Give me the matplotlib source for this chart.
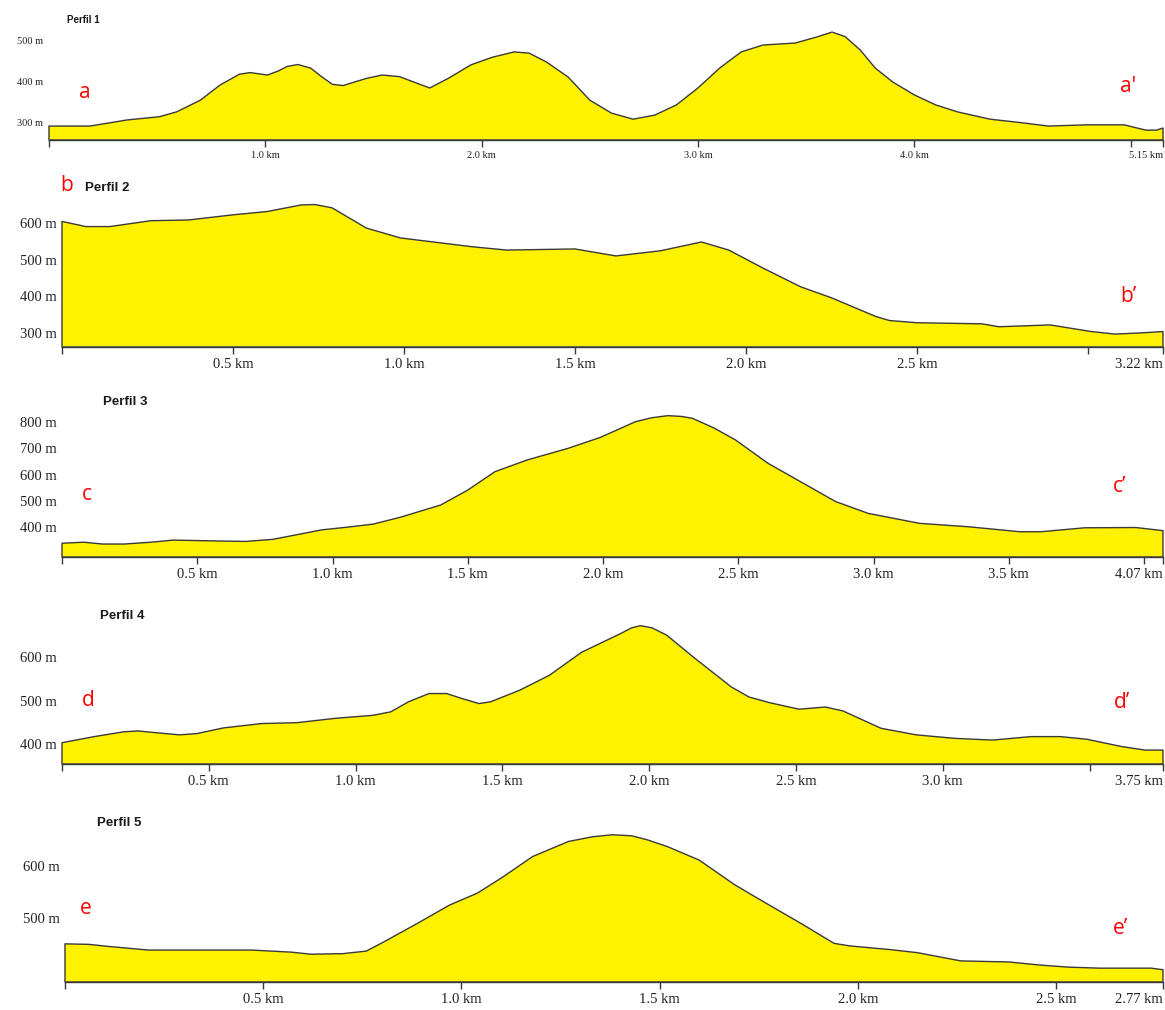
import numpy as np
import matplotlib
matplotlib.use("Agg")
import matplotlib.pyplot as plt

# ---------------- data ----------------
p1_km = [0, 0.19, 0.36, 0.51, 0.59, 0.70, 0.79, 0.88, 0.93, 1.01, 1.06, 1.10, 1.15, 1.21, 1.26, 1.31, 1.36,
         1.42, 1.47, 1.54, 1.62, 1.68, 1.76, 1.85, 1.95, 2.05, 2.15, 2.22, 2.30, 2.40, 2.50, 2.60, 2.70, 2.80,
         2.90, 3.00, 3.10, 3.20, 3.30, 3.45, 3.55, 3.62, 3.68, 3.75, 3.82, 3.90, 4.00, 4.10, 4.20,
         4.35, 4.50, 4.62, 4.80, 4.97, 5.07, 5.12, 5.15]
p1_elev = [290, 290, 305, 313, 325, 354, 391, 418, 422, 416, 426, 437, 442, 433, 412, 393, 390,
           400, 408, 416, 412, 400, 384, 409, 441, 460, 473, 470, 448, 411, 354, 322, 307, 317,
           342, 384, 433, 473, 490, 495, 510, 522, 511, 478, 433, 399, 367, 342, 325,
           307, 298, 290, 293, 293, 280, 280, 285]

p2_km = [0, 0.07, 0.14, 0.26, 0.37, 0.50, 0.60, 0.70, 0.74, 0.79, 0.89, 0.99, 1.20, 1.30, 1.50,
         1.62, 1.75, 1.87, 1.95, 2.05, 2.16, 2.25, 2.38, 2.42, 2.50, 2.69, 2.74, 2.89, 3.01, 3.08,
         3.17, 3.22]
p2_elev = [604, 590, 590, 606, 608, 622, 631, 649, 650, 641, 586, 559, 535, 526, 529,
           510, 524, 548, 526, 477, 426, 396, 345, 334, 328, 325, 317, 322, 304, 297,
           301, 304]

p3_km = [0, 0.08, 0.15, 0.23, 0.33, 0.41, 0.61, 0.68, 0.78, 0.88, 0.96, 1.06, 1.15, 1.25, 1.40,
         1.50, 1.60, 1.72, 1.87, 1.99, 2.12, 2.18, 2.24, 2.29, 2.33, 2.41, 2.49, 2.61, 2.73, 2.86,
         2.98, 3.17, 3.35, 3.54, 3.62, 3.78, 3.97, 4.07]
p3_elev = [338, 342, 335, 335, 342, 350, 346, 345, 353, 373, 389, 400, 411, 437, 484,
           541, 611, 656, 700, 742, 802, 817, 825, 822, 815, 778, 732, 643, 573, 497,
           452, 414, 401, 382, 382, 397, 398, 386]

p4_km = [0, 0.11, 0.21, 0.26, 0.32, 0.40, 0.46, 0.55, 0.68, 0.80, 0.93, 1.06, 1.12, 1.18, 1.25,
         1.31, 1.36, 1.42, 1.46, 1.56, 1.66, 1.77, 1.90, 1.94, 1.97, 2.01, 2.06, 2.15, 2.28, 2.34,
         2.41, 2.51, 2.60, 2.66, 2.79, 2.91, 3.04, 3.17, 3.30, 3.40, 3.49, 3.61, 3.69, 3.75]
p4_elev = [403, 417, 428, 430, 426, 421, 424, 437, 447, 449, 459, 466, 474, 497, 516,
           516, 505, 493, 497, 524, 558, 611, 653, 667, 672, 667, 650, 600, 531, 508,
           495, 480, 485, 476, 436, 421, 413, 409, 417, 417, 411, 394, 386, 386]

p5_km = [0, 0.06, 0.11, 0.21, 0.34, 0.47, 0.57, 0.62, 0.70, 0.76, 0.80, 0.89, 0.97, 1.04, 1.10,
         1.18, 1.27, 1.33, 1.38, 1.43, 1.47, 1.52, 1.60, 1.69, 1.77, 1.86, 1.94, 1.98, 2.08, 2.15,
         2.26, 2.38, 2.46, 2.53, 2.61, 2.74, 2.77]
p5_elev = [450, 449, 445, 438, 438, 438, 434, 430, 431, 436, 452, 490, 525, 548, 577,
           619, 648, 657, 661, 659, 651, 638, 612, 564, 528, 488, 451, 446, 439, 433,
           417, 415, 409, 405, 403, 403, 400]

titles = ["Perfil 1", "Perfil 2", "Perfil 3", "Perfil 4", "Perfil 5"]
start_letters = ["a", "b", "c", "d", "e"]
end_letters = ["a'", "b\u2019", "c\u2019", "d\u2019", "e\u2019"]

p1_yticks = [300, 400, 500]
p2_yticks = [300, 400, 500, 600]
p3_yticks = [400, 500, 600, 700, 800]
p4_yticks = [400, 500, 600]
p5_yticks = [500, 600]

p1_xticks = [1.0, 2.0, 3.0, 4.0, 5.0]
p2_xticks = [0.5, 1.0, 1.5, 2.0, 2.5, 3.0]
p3_xticks = [0.5, 1.0, 1.5, 2.0, 2.5, 3.0, 3.5, 4.0]
p4_xticks = [0.5, 1.0, 1.5, 2.0, 2.5, 3.0, 3.5]
p5_xticks = [0.5, 1.0, 1.5, 2.0, 2.5]
hidden_ticks = [5.0, 3.0, 4.0, 3.5, None]   # ticks drawn without label

# ---------------- layout (pixel geometry) ----------------
W, H = 1165, 1010
fig = plt.figure(figsize=(W / 100, H / 100), dpi=100)

geom = [
    dict(l=49, r=1163, t=10, b=140, ref=300, refpx=122, s=40.5, fs=7.5, tfs=7),
    dict(l=62, r=1163, t=195, b=347, ref=300, refpx=333, s=36.7, fs=10.5, tfs=9.5),
    dict(l=62, r=1163, t=405, b=557, ref=400, refpx=527, s=26.2, fs=10.5, tfs=9.5),
    dict(l=62, r=1163, t=615, b=764, ref=400, refpx=744, s=43.5, fs=10.5, tfs=9.5),
    dict(l=65, r=1163, t=825, b=982, ref=500, refpx=918, s=51.7, fs=10.5, tfs=9.5),
]
title_pos = [(67, 20), (85, 188), (103, 402), (100, 616), (97, 823)]
start_pos = [(85, 92), (67, 186), (87, 494), (88, 700), (86, 908)]
end_pos = [(1128, 86), (1128, 296), (1120, 487), (1122, 703), (1120, 928)]

series = [(p1_km, p1_elev), (p2_km, p2_elev), (p3_km, p3_elev), (p4_km, p4_elev), (p5_km, p5_elev)]
yticks_all = [p1_yticks, p2_yticks, p3_yticks, p4_yticks, p5_yticks]
xticks_all = [p1_xticks, p2_xticks, p3_xticks, p4_xticks, p5_xticks]

YELLOW = "#FFF200"
EDGE = "#3a3a3a"
serif = "Liberation Serif"
sans = "Liberation Sans"

for i, g in enumerate(geom):
    km, elev = series[i]
    km = np.array(km, dtype=float)
    elev = np.array(elev, dtype=float)
    ax = fig.add_axes([g["l"] / W, 1 - g["b"] / H, (g["r"] - g["l"]) / W, (g["b"] - g["t"]) / H])
    ybot = g["ref"] - (g["b"] - g["refpx"]) / g["s"] * 100
    ytop = g["ref"] + (g["refpx"] - g["t"]) / g["s"] * 100
    ax.set_ylim(ybot, ytop)
    end = km[-1]
    ax.set_xlim(0, end)

    ax.fill(np.r_[km[0], km, km[-1]], np.r_[ybot, elev, ybot],
            facecolor=YELLOW, edgecolor=EDGE, linewidth=1.0, joinstyle="round",
            clip_on=False, zorder=2)

    for sp in ["top", "right", "left"]:
        ax.spines[sp].set_visible(False)
    ax.spines["bottom"].set_color(EDGE)
    ax.spines["bottom"].set_linewidth(1.0)
    ax.spines["bottom"].set_zorder(3)

    xt = [0.0] + list(xticks_all[i]) + [end]
    labels = []
    for v in xt:
        if v == 0.0 or v == hidden_ticks[i] or v == end:
            labels.append("")
        else:
            labels.append(f"{v:.1f} km")
    ax.set_xticks(xt)
    ax.set_xticklabels(labels, fontfamily=serif, fontsize=g["fs"])
    ax.tick_params(axis="x", direction="out", length=5, width=1.0, color=EDGE, pad=3)
    endlab = f"{end:g} km"
    ax.annotate(endlab, xy=(end, ybot), xytext=(0, -8), textcoords="offset points",
                ha="right", va="top", fontfamily=serif, fontsize=g["fs"], color="#222222",
                annotation_clip=False)

    ax.set_yticks(yticks_all[i])
    ax.set_yticklabels([f"{v} m" for v in yticks_all[i]], fontfamily=serif, fontsize=g["fs"])
    ax.tick_params(axis="y", length=0, pad=4)
    for lab in ax.get_xticklabels() + ax.get_yticklabels():
        lab.set_color("#222222")
    ax.patch.set_alpha(0)

    tx, ty = title_pos[i]
    fig.text(tx / W, 1 - ty / H, titles[i], fontfamily=sans, fontweight="bold",
             fontsize=g["tfs"], color="#1a1a1a", ha="left", va="center")
    sx, sy = start_pos[i]
    fig.text(sx / W, 1 - sy / H, start_letters[i], fontfamily="Open Sans",
             fontsize=15, color="#FF0000", ha="center", va="center")
    ex, ey = end_pos[i]
    fig.text(ex / W, 1 - ey / H, end_letters[i], fontfamily="Open Sans",
             fontsize=15, color="#FF0000", ha="center", va="center")

fig.savefig("out.png", dpi=100, facecolor="white")
